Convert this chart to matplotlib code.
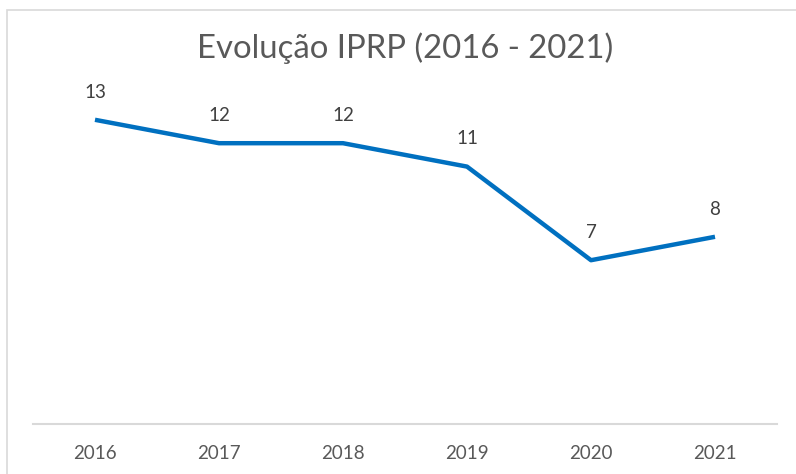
import matplotlib.pyplot as plt
from matplotlib.patches import Rectangle

years = ["2016", "2017", "2018", "2019", "2020", "2021"]
values = [13, 12, 12, 11, 7, 8]

plt.rcParams['font.family'] = ['Lato', 'DejaVu Sans']

fig = plt.figure(figsize=(7.96, 4.74), dpi=100)

#light gray frame round the chart, cut off at the bottom and right like the screenshot
fig.patches.append(Rectangle((7 / 796, -0.01), 2, 1.01 - 10 / 474, transform=fig.transFigure,
                             fill=False, edgecolor="#D9D9D9", linewidth=1.2))

ax = fig.add_axes([33 / 796, 50 / 474, 744 / 796, (424 - 96.4) / 474])
x = range(len(years))
ax.plot(x, values, color="#0070C0", linewidth=3.2, solid_capstyle="butt")

for xi, v in zip(x, values):
    ax.annotate(str(v), (xi, v), xytext=(0, 20), textcoords="offset points",
                ha="center", va="center", fontsize=13.5, color="#404040")

ax.set_xlim(-0.5, len(years) - 0.5)
ax.set_ylim(0, 14)
ax.set_xticks(list(x))
ax.set_xticklabels(years, fontsize=13.5, color="#595959")
ax.set_yticks([])
ax.tick_params(axis="x", length=0, pad=15)
for side in ["top", "left", "right"]:
    ax.spines[side].set_visible(False)
ax.spines["bottom"].set_color("#D9D9D9")
ax.spines["bottom"].set_linewidth(1.5)

fig.text(405 / 796, 1 - 48 / 474, "Evolução IPRP (2016 - 2021)", ha="center", va="center",
         fontsize=23.7, color="#595959")

fig.savefig("out.png", dpi=100)
